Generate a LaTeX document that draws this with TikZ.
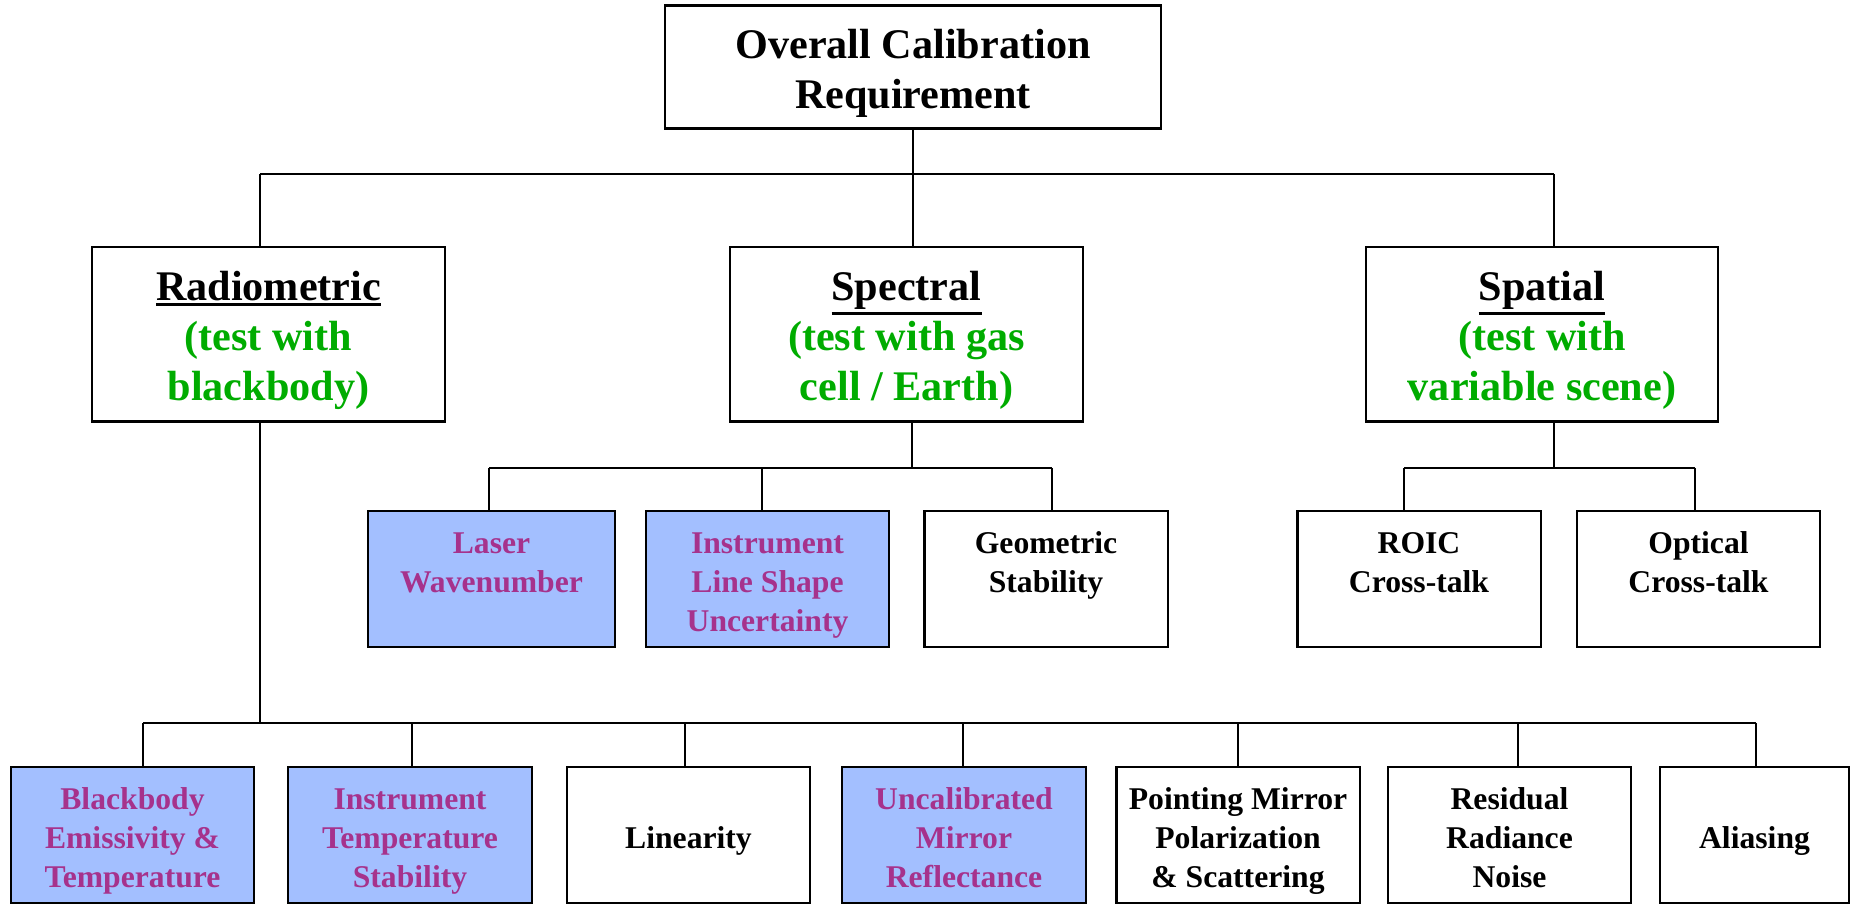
\documentclass[tikz,border=0pt]{standalone}
\usepackage{fontspec}
\setmainfont{Liberation Serif}
\definecolor{verdeprueba}{RGB}{0,172,0}
\definecolor{magentatexto}{RGB}{166,50,140}
\definecolor{azulcaja}{RGB}{163,191,255}
\newcommand{\subrayado}[1]{\leavevmode\vtop{\hbox{#1}\kern0.6pt\hrule height 0.9pt}}
% margenes del texto, como en el original
\newcommand{\altop}{\rule{0pt}{9.6pt}}
\newcommand{\altog}{\rule{0pt}{11.7pt}}
\newcommand{\bajop}{\rule[-1.9pt]{0pt}{0pt}}
\begin{document}
\begin{tikzpicture}[x=0.01cm,y=-0.01cm,
    caja/.style={draw, line width=0.6pt, inner sep=0pt, align=center,
      font=\fontsize{9}{11}\selectfont\bfseries,
      minimum width=2.43cm, minimum height=1.36cm},
    cajaazul/.style={caja, fill=azulcaja, text=magentatexto},
    cajagrande/.style={caja, font=\fontsize{12}{14.2}\selectfont\bfseries,
      minimum width=3.52cm, minimum height=1.74cm},
    linea/.style={line width=0.5pt}]

    \useasboundingbox (0,0) rectangle (1852,904);

    % Requisito general
    \node[cajagrande, minimum width=4.95cm, minimum height=1.23cm] (total) at (913,67) {\altog Overall Calibration\\Requirement};

    % Las tres categorias
    \node[cajagrande] (rad) at (268.5,334.5) {\altog\subrayado{Radiometric}\\\textcolor{verdeprueba}{(test with}\\\textcolor{verdeprueba}{blackbody)}};
    \node[cajagrande] (spec) at (906.5,334.5) {\altog\subrayado{Spectral}\\\textcolor{verdeprueba}{(test with gas}\\\textcolor{verdeprueba}{cell / Earth)}};
    \node[cajagrande] (spat) at (1542,334.5) {\altog\subrayado{Spatial}\\\textcolor{verdeprueba}{(test with}\\\textcolor{verdeprueba}{variable scene)}};

    % Subcategorias espectrales y espaciales
    \node[cajaazul, minimum width=2.47cm] (laser) at (491.5,579) {\altop Laser\\Wavenumber\\\bajop};
    \node[cajaazul] (ils) at (767.5,579) {\altop Instrument\\Line Shape\\Uncertainty};
    \node[caja] (geo) at (1046,579) {\altop Geometric\\Stability\\\bajop};
    \node[caja] (roic) at (1419,579) {\altop ROIC\\Cross-talk\\\bajop};
    \node[caja] (opt) at (1698.5,579) {\altop Optical\\Cross-talk\\\bajop};

    % Subcategorias radiometricas
    \node[cajaazul] (bb) at (132.5,835) {\altop Blackbody\\Emissivity \&\\Temperature};
    \node[cajaazul] (itemp) at (410,835) {\altop Instrument\\Temperature\\Stability};
    \node[caja] (lin) at (688.5,835) {\altop Linearity};
    \node[cajaazul] (uncal) at (964,835) {\altop Uncalibrated\\Mirror\\Reflectance\bajop};
    \node[caja] (point) at (1238,835) {\altop Pointing Mirror\\Polarization\\\& Scattering};
    \node[caja] (resid) at (1509.5,835) {\altop Residual\\Radiance\\Noise\bajop};
    \node[caja, minimum width=1.89cm] (alias) at (1754.5,835) {\altop Aliasing};

    % Conectores del primer nivel
    \coordinate (izq1) at (260,174);
    \coordinate (der1) at (1554,174);
    \draw[linea] (izq1) -- (der1);
    \draw[linea] (total.south) -- (total.south |- spec.north);
    \draw[linea] (izq1) -- (izq1 |- rad.north);
    \draw[linea] (der1) -- (der1 |- spat.north);

    % Conectores espectrales
    \coordinate (barspec) at (912,468);
    \draw[linea] (barspec |- spec.south) -- (barspec);
    \foreach \x/\n in {489/laser, 762/ils, 1052/geo} {
        \coordinate (c\n) at (\x,468);
        \draw[linea] (c\n) -- (c\n |- \n.north);
    }
    \draw[linea] (claser) -- (cgeo);

    % Conectores espaciales
    \coordinate (barspat) at (1554,468);
    \draw[linea] (barspat |- spat.south) -- (barspat);
    \foreach \x/\n in {1404/roic, 1695/opt} {
        \coordinate (c\n) at (\x,468);
        \draw[linea] (c\n) -- (c\n |- \n.north);
    }
    \draw[linea] (croic) -- (copt);

    % Conectores radiometricos
    \coordinate (barrad) at (260,723);
    \draw[linea] (barrad |- rad.south) -- (barrad);
    \foreach \x/\n in {143/bb, 412/itemp, 685/lin, 963/uncal, 1238/point, 1518/resid, 1756/alias} {
        \coordinate (c\n) at (\x,723);
        \draw[linea] (c\n) -- (c\n |- \n.north);
    }
    \draw[linea] (cbb) -- (calias);
\end{tikzpicture}
\end{document}
